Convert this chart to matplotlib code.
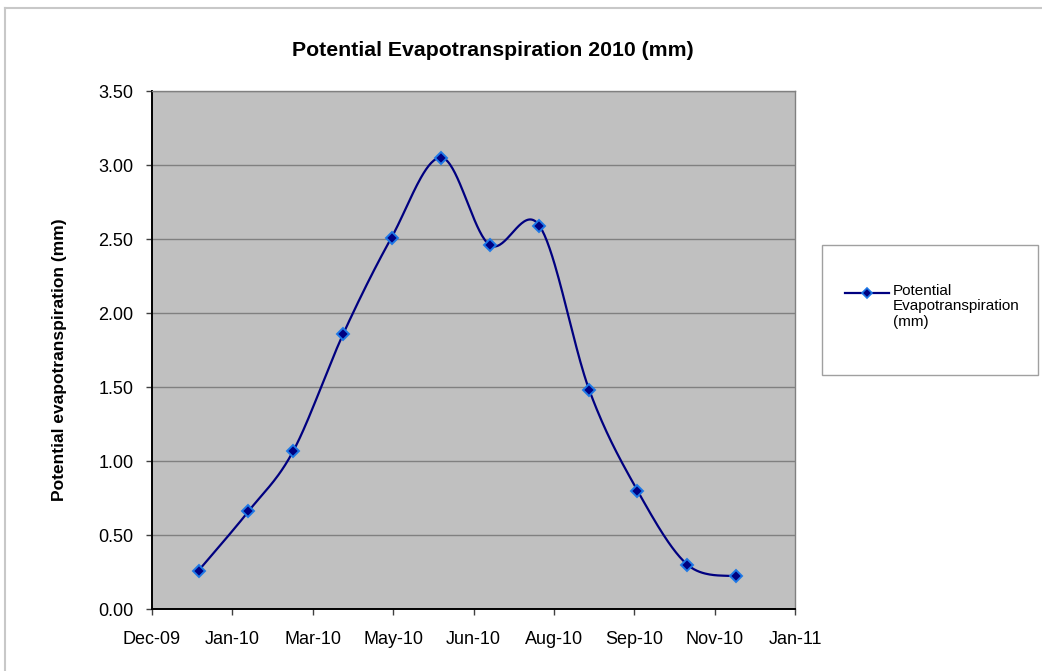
import datetime as dt
import numpy as np
import matplotlib
matplotlib.use("Agg")
import matplotlib.pyplot as plt
import matplotlib.dates as mdates
from matplotlib.lines import Line2D
from matplotlib.patches import Rectangle

plt.rcParams['font.family'] = ['Liberation Sans', 'DejaVu Sans']

# Monthly potential evapotranspiration, 2010
months = [dt.date(2010, m, 1) for m in range(1, 13)]
pet_mm = [0.26, 0.66, 1.07, 1.86, 2.51, 3.05, 2.46, 2.59, 1.48, 0.80, 0.30, 0.22]

title = "Potential Evapotranspiration 2010 (mm)"
ylabel = "Potential evapotranspiration (mm)"
series_name = "Potential\nEvapotranspiration\n(mm)"

# Axis range: spreadsheet serial-style date axis, major unit of 50 days
x_start = dt.date(2009, 12, 3)
x_step_days = 50
n_steps = 8
y_ticks = [0.0, 0.5, 1.0, 1.5, 2.0, 2.5, 3.0, 3.5]

LINE = "#000080"
EDGE = "#1E78E6"


def smooth_curve(x, y, n=40):
    """Catmull-Rom style Bezier smoothing through every point."""
    px = np.concatenate([[x[0]], x, [x[-1]]])
    py = np.concatenate([[y[0]], y, [y[-1]]])
    xs, ys = [], []
    t = np.linspace(0, 1, n)
    for i in range(1, len(px) - 2):
        p0 = np.array([px[i], py[i]])
        p3 = np.array([px[i + 1], py[i + 1]])
        b1 = p0 + (p3 - np.array([px[i - 1], py[i - 1]])) / 6.0
        b2 = p3 - (np.array([px[i + 2], py[i + 2]]) - p0) / 6.0
        pts = ((1 - t) ** 3)[:, None] * p0 + (3 * (1 - t) ** 2 * t)[:, None] * b1 \
            + (3 * (1 - t) * t ** 2)[:, None] * b2 + (t ** 3)[:, None] * p3
        xs.extend(pts[:, 0])
        ys.extend(pts[:, 1])
    return np.array(xs), np.array(ys)


W, H = 1042, 671
fig = plt.figure(figsize=(W / 100, H / 100), dpi=100)
fig.patch.set_facecolor("white")

ax_l, ax_r, ax_t, ax_b = 152, 795, 91, 609
ax = fig.add_axes([ax_l / W, 1 - ax_b / H, (ax_r - ax_l) / W, (ax_b - ax_t) / H])
ax.set_facecolor("#C0C0C0")

xnum = mdates.date2num(months)
yv = np.array(pet_mm)
sx, sy = smooth_curve(xnum, yv)
ax.plot(sx, sy, color=LINE, lw=1.6, zorder=3, solid_capstyle="round")
ax.plot(xnum, yv, ls="none", marker="D", ms=6.5, mfc=LINE, mec=EDGE, mew=1.4, zorder=4)

x0 = mdates.date2num(x_start)
xticks = [x0 + k * x_step_days for k in range(n_steps + 1)]
ax.set_xlim(xticks[0], xticks[-1])
ax.set_xticks(xticks)
ax.xaxis.set_major_formatter(mdates.DateFormatter("%b-%y"))
ax.set_ylim(0, 3.5)
ax.set_yticks(y_ticks)
ax.set_yticklabels([f"{v:.2f}" for v in y_ticks])

ax.grid(axis="y", color="#808080", lw=1.0, zorder=1)
ax.set_axisbelow(True)
for s in ("top", "right"):
    ax.spines[s].set_color("#808080")
    ax.spines[s].set_linewidth(1.0)
for s in ("left", "bottom"):
    ax.spines[s].set_color("black")
    ax.spines[s].set_linewidth(1.4)

ax.tick_params(axis="x", direction="out", length=4, width=1, color="#404040",
               labelsize=13, pad=12)
ax.tick_params(axis="y", direction="out", length=4.5, width=1, color="#404040",
               labelsize=13, pad=9)

fig.text(60 / W, 1 - 360 / H, ylabel, rotation=90, ha="center", va="center",
         fontsize=12.5, fontweight="bold")

fig.text(493 / W, 1 - 50 / H, title, ha="center", va="center",
         fontsize=15.3, fontweight="bold")

# Legend box
fig.add_artist(Rectangle((822 / W, 1 - 375 / H), (1038 - 822) / W, (375 - 245) / H,
                         transform=fig.transFigure, facecolor="white",
                         edgecolor="#A0A0A0", lw=1.0))
ly = 1 - 293 / H
fig.add_artist(Line2D([845 / W, 889 / W], [ly, ly], transform=fig.transFigure,
                      color=LINE, lw=1.6))
fig.add_artist(Line2D([867 / W], [ly], transform=fig.transFigure, ls="none",
                      marker="D", ms=5, mfc=LINE, mec=EDGE, mew=1.2))
fig.text(893 / W, 1 - 284 / H, series_name, ha="left", va="top",
         fontsize=11, linespacing=1.13)

# Chart frame (top and left edges)
fig.add_artist(Line2D([5 / W, 1.0], [1 - 8 / H, 1 - 8 / H], transform=fig.transFigure,
                      color="#C8C8C8", lw=1.5))
fig.add_artist(Line2D([5 / W, 5 / W], [0.0, 1 - 8 / H], transform=fig.transFigure,
                      color="#C8C8C8", lw=1.5))

fig.savefig("out.png", dpi=100)
